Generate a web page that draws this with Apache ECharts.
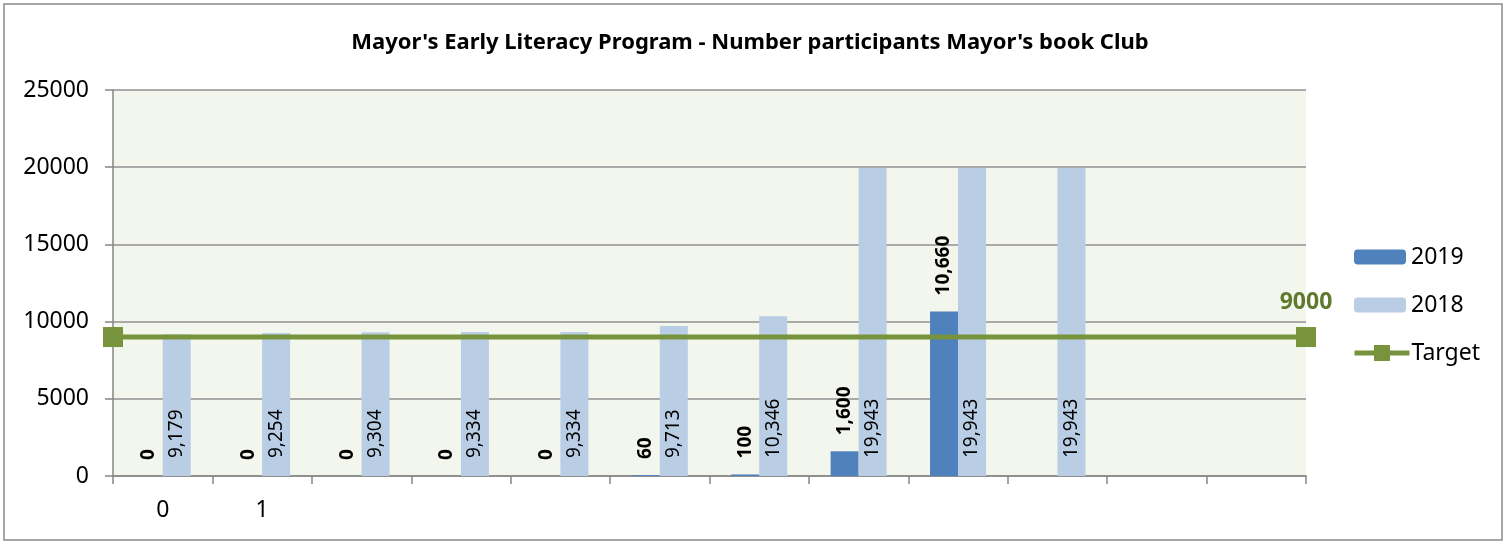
<!DOCTYPE html>
<html>
<head>
<meta charset="utf-8">
<script src="https://cdn.jsdelivr.net/npm/echarts@6/dist/echarts.min.js"></script>
<style>
html,body{margin:0;padding:0;background:#fff;}
#chart{width:1509px;height:542px;}
</style>
</head>
<body>
<div id="chart"></div>
<script>
var categories = ["c0","c1","c2","c3","c4","c5","c6","c7","c8","c9","c10","c11"];
var xLabels = ["0","1","","","","","","","","","",""];
var values2019 = [0,0,0,0,0,60,100,1600,10660,null,null,null];
var values2018 = [9179,9254,9304,9334,9334,9713,10346,19943,19943,19943,null,null];
var targetValue = 9000;
var yTicks = [0,5000,10000,15000,20000,25000];
var titleText = "Mayor's Early Literacy Program - Number participants Mayor's book Club";

var FONT = "Noto Sans";
var chart = echarts.init(document.getElementById('chart'));
function fmtNum(v){ return Number(v).toLocaleString('en-US'); }

var option = {
  animation:false,
  backgroundColor:'#ffffff',
  textStyle:{fontFamily:FONT},
  title:{
    text:titleText, left:745, textAlign:'center', top:27,
    textStyle:{fontFamily:FONT, fontSize:22, fontWeight:'bold', color:'#000'}
  },
  graphic:[{type:'rect', shape:{x:4,y:4,width:1498,height:536}, style:{fill:null, stroke:'#8a8a8a', lineWidth:1.5}, silent:true, z:-1}],
  legend:[{
    orient:'vertical', left:1349, top:238,
    itemWidth:52, itemHeight:15, itemGap:20,
    data:['2019','2018'],
    textStyle:{fontFamily:FONT, fontSize:23, color:'#000', lineHeight:28}
  },{
    orient:'vertical', left:1347, top:334,
    itemWidth:55, itemHeight:20,
    data:[{name:'Target', lineStyle:{width:5, color:'#77933c'}, itemStyle:{color:'#77933c'}}],
    textStyle:{fontFamily:FONT, fontSize:23, color:'#000', lineHeight:28, padding:[0,0,0,-3]}
  }],
  grid:{left:113, right:203, top:90, bottom:66, show:true, backgroundColor:'#f3f6ec', borderWidth:0},
  xAxis:[{
    type:'category', data:categories,
    axisLine:{show:true, lineStyle:{color:'#868686', width:1.5}},
    axisTick:{show:true, alignWithLabel:false, length:8, lineStyle:{color:'#868686', width:1.5}},
    axisLabel:{interval:0, margin:23, fontSize:23, color:'#000', fontFamily:FONT,
      formatter:function(v, i){ return xLabels[i]; }},
    splitLine:{show:false}
  },{
    type:'value', min:0, max:1, show:false
  }],
  yAxis:{
    type:'value', min:yTicks[0], max:yTicks[yTicks.length-1], interval:yTicks[1]-yTicks[0],
    axisLine:{show:true, lineStyle:{color:'#868686', width:1.5}},
    axisTick:{show:true, length:8, lineStyle:{color:'#868686', width:1.5}},
    axisLabel:{margin:24, fontSize:23, color:'#000', fontFamily:FONT,
      formatter:function(v){ return String(v); }},
    splitLine:{show:true, lineStyle:{color:'#909090', width:1.5}}
  },
  series:[{
    name:'2019', type:'bar', data:values2019, barWidth:28, barGap:'0%',
    itemStyle:{color:'#4f81bd'},
    label:{show:true, position:'top', rotate:90, align:'left', verticalAlign:'middle', distance:16,
      fontFamily:FONT, fontSize:19, fontWeight:'bold', color:'#000',
      formatter:function(p){ return fmtNum(p.value); }}
  },{
    name:'2018', type:'bar', data:values2018, barWidth:28, barGap:'0%',
    itemStyle:{color:'#b9cde5'},
    label:{show:true, position:'insideBottom', rotate:90, align:'left', verticalAlign:'middle', distance:18,
      fontFamily:FONT, fontSize:19, color:'#000',
      formatter:function(p){ return fmtNum(p.value); }}
  },{
    name:'Target', type:'line', xAxisIndex:1,
    data:[[0,targetValue],{value:[1,targetValue], label:{show:true}}],
    symbol:'rect', symbolSize:20,
    lineStyle:{color:'#77933c', width:5},
    itemStyle:{color:'#77933c'},
    label:{show:false, position:'top', distance:13, fontFamily:FONT, fontSize:23, fontWeight:'bold', color:'#5f7a2d',
      formatter:function(p){ return p.value[1]; }},
    z:5
  }]
};
chart.setOption(option);
</script>
</body>
</html>
